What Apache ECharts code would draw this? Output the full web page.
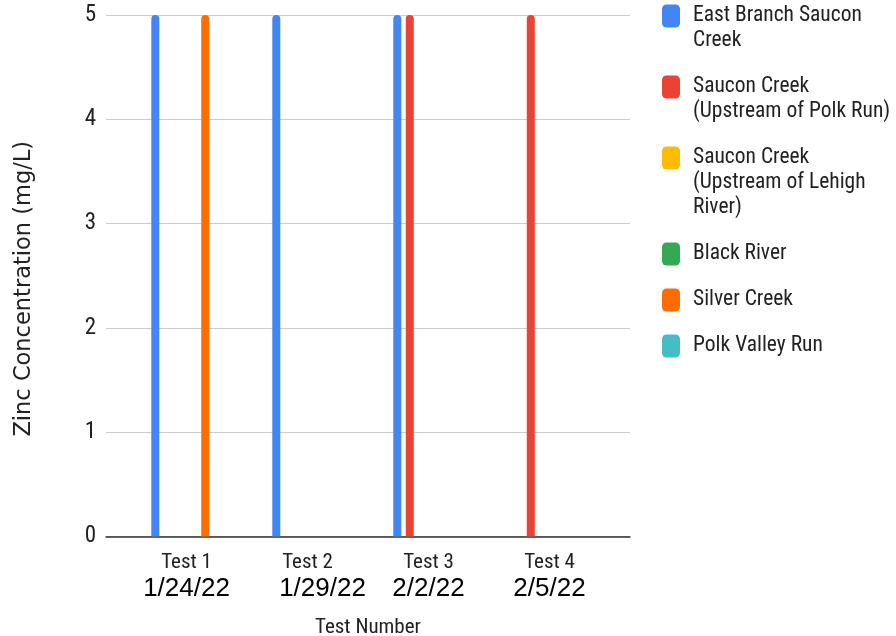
<!DOCTYPE html>
<html>
<head>
<meta charset="utf-8">
<script src="https://cdn.jsdelivr.net/npm/echarts@6/dist/echarts.min.js"></script>
<style>
  html, body { margin: 0; padding: 0; background: #ffffff; }
  #chart { width: 896px; height: 636px; }
</style>
</head>
<body>
<div id="chart"></div>
<script>
// Zinc concentration per test, by sampling site (mg/L)
const categories = ['Test 1', 'Test 2', 'Test 3', 'Test 4'];
const testDates = ['1/24/22', '1/29/22', '2/2/22', '2/5/22'];
const yTicks = [0, 1, 2, 3, 4, 5];

const seriesNames = [
  'East Branch Saucon Creek',
  'Saucon Creek (Upstream of Polk Run)',
  'Saucon Creek (Upstream of Lehigh River)',
  'Black River',
  'Silver Creek',
  'Polk Valley Run'
];
const legendLines = [
  ['East Branch Saucon', 'Creek'],
  ['Saucon Creek', '(Upstream of Polk Run)'],
  ['Saucon Creek', '(Upstream of Lehigh', 'River)'],
  ['Black River'],
  ['Silver Creek'],
  ['Polk Valley Run']
];

const eastBranch   = [5, 5, 5, null];
const sauconPolk   = [null, null, 5, 5];
const sauconLehigh = [null, null, null, null];
const blackRiver   = [null, null, null, null];
const silverCreek  = [5, null, null, null];
const polkValley   = [null, null, null, null];

const seriesValues = [eastBranch, sauconPolk, sauconLehigh, blackRiver, silverCreek, polkValley];
const colors = ['#4285F4', '#EA4335', '#FBBC04', '#34A853', '#FF6D01', '#46BDC6'];

const NARROW = '"Liberation Sans Narrow", "Arial Narrow", "Roboto Condensed", sans-serif';
const TEXT = '#222222';

// One legend block per site; blank leading lines keep the swatch level with the first text line
const LH = 25, GAP = 21;
let lineCenter = 16;
const legends = seriesNames.map((name, i) => {
  const n = legendLines[i].length;
  const top = lineCenter - (n - 1) * LH - LH / 2;
  lineCenter += n * LH + GAP;
  return {
    orient: 'vertical',
    left: 662,
    top: top,
    padding: 0,
    itemWidth: 18,
    itemHeight: 23,
    icon: 'roundRect',
    selectedMode: false,
    data: [name],
    formatter: () => '\n'.repeat(n - 1) + legendLines[i].join('\n'),
    textStyle: {
      fontFamily: NARROW,
      fontSize: 21.5,
      lineHeight: LH,
      color: TEXT,
      padding: [0, 0, 0, 8]
    }
  };
});

const chart = echarts.init(document.getElementById('chart'), null, { renderer: 'canvas' });

chart.setOption({
  animation: false,
  backgroundColor: '#ffffff',
  color: colors,
  legend: legends,
  grid: [
    // frame: gridlines and baseline
    { left: 106, right: 266, top: 15, bottom: 99.5, outerBoundsMode: 'none', containLabel: false },
    // bars and category labels
    { left: 126, right: 286, top: 15, bottom: 99.5, outerBoundsMode: 'none', containLabel: false }
  ],
  xAxis: [
    {
      type: 'value', gridIndex: 0, min: 0, max: 1,
      axisLabel: { show: false },
      axisTick: { show: false },
      splitLine: { show: false },
      axisLine: { show: true, lineStyle: { color: '#333333', width: 1.5 } }
    },
    {
      type: 'category', gridIndex: 1,
      data: categories,
      axisLine: { show: false },
      axisTick: { show: false },
      axisLabel: {
        interval: 0,
        margin: 14,
        formatter: (value, idx) => '{t|' + value + '}\n{' + (idx === 1 ? 'd2' : 'd') + '|' + testDates[idx] + '}',
        rich: {
          t: { fontFamily: NARROW, fontSize: 21, lineHeight: 25, color: TEXT },
          d: { fontFamily: '"Liberation Sans", Arial, sans-serif', fontSize: 26, lineHeight: 27, color: '#000000' },
          d2: { fontFamily: '"Liberation Sans", Arial, sans-serif', fontSize: 26, lineHeight: 27, color: '#000000', padding: [0, 0, 0, 30] }
        }
      },
      name: 'Test Number',
      nameLocation: 'middle',
      nameGap: 81,
      nameTextStyle: { fontFamily: NARROW, fontSize: 21, color: TEXT }
    }
  ],
  yAxis: [
    {
      type: 'value', gridIndex: 0,
      min: yTicks[0], max: yTicks[yTicks.length - 1], interval: yTicks[1] - yTicks[0],
      axisLine: { show: false },
      axisTick: { show: false },
      axisLabel: { margin: 10, fontFamily: NARROW, fontSize: 23, color: TEXT },
      splitLine: { lineStyle: { color: '#cccccc', width: 1 } },
      name: 'Zinc Concentration (mg/L)',
      nameLocation: 'middle',
      nameGap: 70,
      nameRotate: 90,
      nameTextStyle: { fontFamily: '"DejaVu Sans", sans-serif', fontSize: 22.5, color: TEXT, padding: [0, 26, 0, 0] }
    },
    {
      type: 'value', gridIndex: 1,
      min: yTicks[0], max: yTicks[yTicks.length - 1], interval: yTicks[1] - yTicks[0],
      show: false
    }
  ],
  series: seriesNames.map((name, i) => ({
    name: name,
    type: 'bar',
    xAxisIndex: 1,
    yAxisIndex: 1,
    barWidth: 8,
    barGap: '56%',
    data: seriesValues[i],
    itemStyle: { color: colors[i], borderRadius: [4, 4, 0, 0] }
  }))
});
</script>
</body>
</html>
